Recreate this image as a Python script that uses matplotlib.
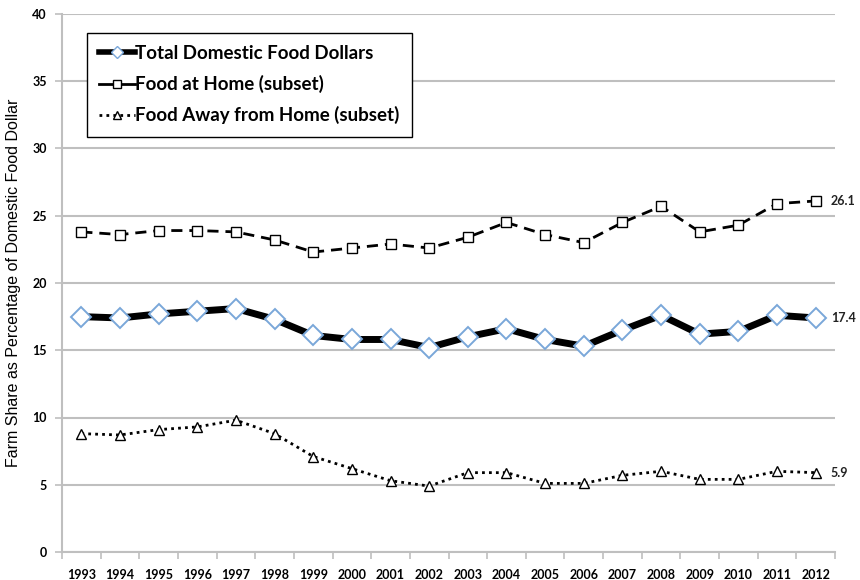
import numpy as np
import matplotlib
matplotlib.use('Agg')
import matplotlib.pyplot as plt
from matplotlib.lines import Line2D

years = list(range(1993, 2013))
total_food = [17.5, 17.4, 17.7, 17.9, 18.1, 17.3, 16.1, 15.8, 15.8, 15.2,
              16.0, 16.6, 15.8, 15.3, 16.5, 17.6, 16.2, 16.4, 17.6, 17.4]
food_home = [23.8, 23.6, 23.9, 23.9, 23.8, 23.2, 22.3, 22.6, 22.9, 22.6,
             23.4, 24.5, 23.6, 23.0, 24.5, 25.7, 23.8, 24.3, 25.9, 26.1]
food_away = [8.8, 8.7, 9.1, 9.3, 9.8, 8.8, 7.1, 6.2, 5.3, 4.9,
             5.9, 5.9, 5.1, 5.1, 5.7, 6.0, 5.4, 5.4, 6.0, 5.9]
labels = ["Total Domestic Food Dollars", "Food at Home (subset)",
          "Food Away from Home (subset)"]

bold_font = 'Lato'
grid_col = '#bfbfbf'
blue_edge = '#7aa7d9'

fig = plt.figure(figsize=(8.6, 5.8), dpi=100)
ax = fig.add_axes([62 / 860, 28 / 580, 773 / 860, 538 / 580])

x = np.arange(len(years))

ax.plot(x, total_food, color='black', lw=5, marker='D', ms=10,
        mfc='white', mec=blue_edge, mew=1.4, zorder=3)
ax.plot(x, food_home, color='black', lw=2, ls=(0, (4, 2.5)), marker='s', ms=7.5,
        mfc='white', mec='black', mew=1.0, zorder=3)
ax.plot(x, food_away, color='black', lw=2, ls=(0, (1, 1.5)), marker='^', ms=7.5,
        mfc='white', mec='black', mew=1.0, zorder=3)

# end-of-line value labels
for series in (food_home, total_food, food_away):
    ax.annotate(f"{series[-1]:.1f}", (x[-1], series[-1]), xytext=(11, 0),
                textcoords='offset points', va='center', ha='left',
                fontsize=9, fontweight='bold', family=bold_font,
                color='#222222', annotation_clip=False)

ax.set_xlim(-0.5, len(years) - 0.5)
ax.set_ylim(0, 40)
ax.set_yticks(range(0, 41, 5))
ax.yaxis.grid(True, color=grid_col, lw=1.5)
ax.set_axisbelow(True)

ax.set_xticks(x)
ax.set_xticklabels([str(y) for y in years], fontsize=9, fontweight='bold',
                   family=bold_font)
ax.set_xticks(np.arange(-0.5, len(years)), minor=True)
ax.tick_params(axis='x', which='major', length=0, pad=12)
ax.tick_params(axis='x', which='minor', length=5, color=grid_col, width=1.2)
ax.tick_params(axis='y', length=5, color=grid_col, width=1.2, pad=6)
for lab in ax.get_yticklabels():
    lab.set_fontweight('bold')
    lab.set_family(bold_font)
    lab.set_fontsize(9)

for s in ('top', 'right'):
    ax.spines[s].set_visible(False)
for s in ('left', 'bottom'):
    ax.spines[s].set_color(grid_col)
    ax.spines[s].set_linewidth(1.5)

ax.set_ylabel("Farm Share as Percentage of Domestic Food Dollar",
              family='Liberation Sans', fontsize=11.5, labelpad=8)

# legend handles with smaller markers, like the original
handles = [
    Line2D([], [], color='black', lw=4, marker='D', ms=6, mfc='white',
           mec=blue_edge, mew=1.0),
    Line2D([], [], color='black', lw=2, marker='s', ms=6, mfc='white',
           mec='black', mew=1.0),
    Line2D([], [], color='black', lw=2, ls=(0, (1, 1.5)), marker='^', ms=6,
           mfc='white', mec='black', mew=1.0),
]
leg = ax.legend(handles, labels, loc='upper left', bbox_to_anchor=(0.032, 0.965),
                prop={'family': bold_font, 'weight': 'bold', 'size': 13.5},
                fancybox=False, edgecolor='black', framealpha=1,
                handlelength=1.9, handletextpad=0.05,
                borderpad=0.65, labelspacing=0.7, borderaxespad=0)
leg.get_frame().set_linewidth(1.0)

fig.savefig('out.png', dpi=100)
